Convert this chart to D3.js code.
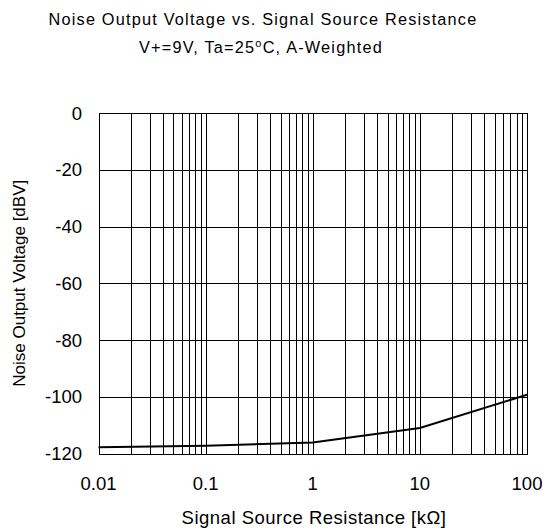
<!DOCTYPE html>
<html>
<head>
<meta charset="utf-8">
<script src="https://cdn.jsdelivr.net/npm/d3@7"></script>
<style>
  body { margin: 0; background: #fff; }
  svg text { font-family: "Liberation Sans", Arial, sans-serif; fill: #000; }
</style>
</head>
<body>
<svg id="chart" width="550" height="530"></svg>
<script>
// curve data
var resistance = [0.01, 0.1, 1, 10, 100];
var noiseDbv = [-117.8, -117.3, -116.1, -111.0, -99.3];

var xTicks = [0.01, 0.1, 1, 10, 100];
var xTickLabels = ['0.01', '0.1', '1', '10', '100'];
var yTicks = [0, -20, -40, -60, -80, -100, -120];

var svg = d3.select('#chart');
var plotL = 98.5, plotR = 527, plotT = 113, plotB = 453.5;

var x = d3.scaleLog().domain([0.01, 100]).range([plotL, plotR]);
var y = d3.scaleLinear().domain([-120, 0]).range([plotB, plotT]);

// minor + major vertical grid
var minor = [];
for (var d = 0.01; d < 100; d *= 10) {
  for (var k = 2; k <= 9; k++) minor.push(d * k);
}
var grid = svg.append('g').attr('stroke', '#000').attr('stroke-width', 1).attr('shape-rendering', 'crispEdges');
grid.selectAll('.vx')
    .data(minor.concat(xTicks))
  .enter().append('line')
    .attr('x1', d => Math.round(x(d)) + 0.5)
    .attr('x2', d => Math.round(x(d)) + 0.5)
    .attr('y1', plotT)
    .attr('y2', plotB);

grid.selectAll('.hy')
    .data(yTicks)
  .enter().append('line')
    .attr('x1', plotL)
    .attr('x2', plotR)
    .attr('y1', d => Math.round(y(d)) + 0.5)
    .attr('y2', d => Math.round(y(d)) + 0.5);

svg.append('rect')
    .attr('x', Math.round(plotL) + 0.5)
    .attr('y', Math.round(plotT) + 0.5)
    .attr('width', Math.round(plotR) - Math.round(plotL))
    .attr('height', Math.round(plotB) - Math.round(plotT))
    .attr('fill', 'none')
    .attr('stroke', '#000')
    .attr('shape-rendering', 'crispEdges');

// curve
var line = d3.line()
    .x((d, i) => x(resistance[i]))
    .y(d => y(d));

svg.append('path')
    .datum(noiseDbv)
    .attr('d', line)
    .attr('fill', 'none')
    .attr('stroke', '#000')
    .attr('stroke-width', 2);

// tick labels
svg.selectAll('.ylab')
    .data(yTicks)
  .enter().append('text')
    .attr('x', 82)
    .attr('y', d => y(d) + 6.5)
    .attr('font-size', 18.5)
    .style('text-anchor', 'end')
    .text(d => d);

svg.selectAll('.xlab')
    .data(xTicks)
  .enter().append('text')
    .attr('x', d => x(d))
    .attr('y', 489.5)
    .attr('font-size', 18.5)
    .style('text-anchor', 'middle')
    .text((d, i) => xTickLabels[i]);

// titles
svg.append('text')
    .attr('x', 263)
    .attr('y', 25)
    .attr('font-size', 16.3)
    .attr('letter-spacing', 1.2)
    .style('text-anchor', 'middle')
    .text('Noise Output Voltage vs. Signal Source Resistance');

var sub = svg.append('text')
    .attr('x', 261)
    .attr('y', 53)
    .attr('font-size', 16.3)
    .attr('letter-spacing', 1.2)
    .style('text-anchor', 'middle');
sub.append('tspan').text('V+=9V, Ta=25');
sub.append('tspan').attr('font-size', 11).attr('dy', -6).text('o');
sub.append('tspan').attr('dy', 6).text('C, A-Weighted');

svg.append('text')
    .attr('x', 314)
    .attr('y', 523.5)
    .attr('font-size', 18.5)
    .attr('letter-spacing', 0.5)
    .style('text-anchor', 'middle')
    .text('Signal Source Resistance [k\u03A9]');

svg.append('text')
    .attr('transform', 'translate(25,' + ((plotT + plotB) / 2) + ') rotate(-90)')
    .attr('font-size', 17)
    .style('text-anchor', 'middle')
    .text('Noise Output Voltage [dBV]');
</script>
</body>
</html>
